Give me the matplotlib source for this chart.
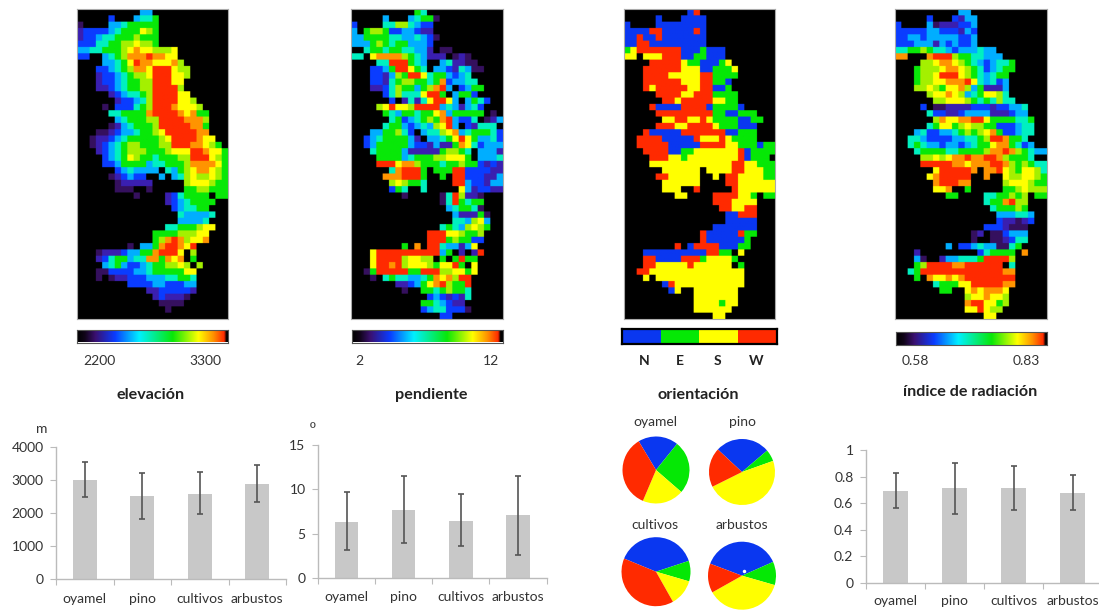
import numpy as np
import matplotlib
matplotlib.use("Agg")
import matplotlib.pyplot as plt
from matplotlib.colors import ListedColormap, LinearSegmentedColormap

plt.rcParams['font.family'] = ['Lato', 'DejaVu Sans']

W, H = 1099, 610

# ---- raster maps: one string per row, '.' is outside the study area
ELEVACION = [
"..........33", ".....2...3445", "0....33455555", "1222234555765", "1223445556555",
"2224455667665", "3344555678776667", "22..345688898877", "....3345798877786",
"...223456887999766", "...122345667999776", "...12234556699977", "...11234556699996",
".....1234456999977", "......1223469999776", "....0.22245699987776", ".....4455558999987855",
"......345556699998886", ".....0134555699999885", "...001233455679999988", "..01123455555679999877",
"..012345665556699988765", "...123456665556777998775", "....23457655455566999765",
"....22355553445556888875", "......2343333.4356788765", ".....012322..3.346766765",
"......011111.....6777655", "......000..0.....5566555", ".........0....1245555.55",
"..............12345555", "...............234455", "................433334", "................33334",
"..............44555677", "............555566677", "............568986778", "........0.335899879",
"...01112335589997.6", "...12455344885878.5", "....34532234556676.6", "...0022223345555577",
"...0.01122233344554", "........22223322233", "...........11222221", "............121110",
".............0000", "..............0", "",
]
PENDIENTE = [
"..........54", ".....3...34550", "2....44664322", "3.56652233211", "33555544334320",
"3335654553332", "..45545544331.00", "44.788886543111.010", "....44999543..341100",
"...223599754.33214300", "...2213659974553234", "...22145665545823344", "...1124655356893.2355",
".....2464447995.3552", "......2.141479973.3542", "....67977699993431342", ".....5435545578355555.0",
"......45234565893224.013", ".....455323436793.21444.2", "...3355642.3446783455542", "..234555531.334579753342",
"..23555553221311587423333", "...4555531111156654.3331", "....555534555667775.3334", "....99978865554556552121",
"......489995.55599222211", ".....8889995..5.99222113", "......676554....99322133", "......254..4.....7312211",
"........0.....0496110", "..............0495455", "...............345540", "................311150",
"................443673", "..............45436765", "............999776556", "............999565522",
"........5.8.99433137", "...7999999999935.1.19", "...7999967766.5.5955", "...799896777657795.7",
"..059999955999667757", "...0.45443345878699", ".......112357896559", "........0..55456554",
"............2321214", "...........5543211", "...........23442220", "..............22",
]
ORIENTACION = [
"..........NW", ".....N...NNNN", "N....NNNNNNNN", "NNNNWWNNNNNWN", "NNWNNWNNNNNNN",
"NNWWNNNNNNNNN", "ESWWWWWWWNNNENNN", "SS.SSSWWWNNEENNN", "....WWWWWSEENNNES",
"...WWWWWWSSSNNEEES", "...WWWWSSSSSWWEEEE", "...WWWWWWSSSWWEEN", "...WSWWWWWSSWWNNE",
".....WWWWSSWWWEEEE", "......WWSWWWWWSSEE", "....WNNNNWWWWNEEEEN", ".....WWWWWWWWWEENNEEE",
"......SSWWSSWSEEEENNEE", ".....WWWSSWWWWSEEENNN", "...WNNNNNWWWWWWWNNEEE", "..WWWWNNNNNWSSSWSEEEE",
"..WWWWWNNNNNWWWWSSEEENEE", "...WWWWNNEESSSSSSSWNEEEE", "....WWWSSESSSSSSSSWNEEE.", "....SSSSSSSSSSSSSWWSSEEE",
"......SSSSSS.SSSSWWSSSEE", ".....WWSSSSS..S.WWSSSSEE", "......SSSSSS....WWSSSSSS", "......SSS..W.....WSSSSSS",
"........SS....WWWWSSE.EE", "..............WWWSSSS", "...............WWSSWW", "................NNWWW",
"................NNNNN", "..............NNNNNNN", "............WNNNNNWEE", "............WNNNNNNE",
"........W.NWWWWNNNEE", "...NNNNNNNNNNWWEE.S", "...WWNNNNWWWESSSSE", "...WWSSSSSWSSSSSS.E",
"..WWSSSSSSSSSSSSSSS", "...S.SSSSSSSSSSSSSS", "......NWSSSSSSSSSSS", ".......NS..SSSSSSS",
"...........SSSSSSS", "...........SSSSESS", "...........SSSSSS", "..............SS",
]
RADIACION = [
"..........33", ".....2...2133", "2....30111223", "2222233222132", "2233233333223",
"2223331323223", "4455654432333433", "88...899965544333", "....667887654323445",
"...5666788765423455", "...566799976543455", "...566778889743423", "...667657786351113",
".....6778763457764", "......6677765454644", "....2.001111222122334", ".....4221123333111233",
"......6877889975555445", ".....45775676655222344", "...3422334565678522344", "..4432222334456998554",
"..45433233234557885423", "...455554455556889865433", "....667678898899865554.", "....99999887888998656544",
"......7999998.8897657764", ".....7899999..8..7667765", "......899988.....6777655", "......778..5.....5567666",
"........55....4455656.55", "..............4558966", "...............455565", "................333443",
"................211012", "..............2221000", "............01.002333", "............0..001244",
"........3.2234330045", "...1.........245555.8", "...30..133444599996", "...56999988999999.4",
"..45999999999999988", "...5.87787899999999", "......4555779999988", ".......55..7878887",
"...........6778776", "...........8997756", "...........779766", "..............77",
]
LEVEL_COLORS = ["#35105e", "#3a1fb0", "#0a3cff", "#00aeff", "#00f0c0",
                "#08e808", "#a4f000", "#ffff00", "#ff9400", "#ff2a00"]
ASPECT_COLORS = {"N": "#0a37f0", "E": "#05e805", "S": "#ffff00", "W": "#ff2a00"}
ASPECT_ORDER = ["N", "E", "S", "W"]

# ---- bar panels
CATEGORIES = ["oyamel", "pino", "cultivos", "arbustos"]
ELEV_MEAN = [3000, 2520, 2600, 2880]
ELEV_LOW = [2480, 1830, 1990, 2330]
ELEV_HIGH = [3550, 3220, 3250, 3450]
PEND_MEAN = [6.35, 7.7, 6.45, 7.1]
PEND_LOW = [3.2, 4.0, 3.6, 2.65]
PEND_HIGH = [9.7, 11.5, 9.45, 11.5]
RAD_MEAN = [0.69, 0.71, 0.71, 0.675]
RAD_LOW = [0.565, 0.515, 0.548, 0.545]
RAD_HIGH = [0.825, 0.905, 0.88, 0.81]
ELEV_TICKS = [0, 1000, 2000, 3000, 4000]
PEND_TICKS = [0, 5, 10, 15]
RAD_TICKS = [0, 0.2, 0.4, 0.6, 0.8, 1]
RAD_TICK_LABELS = ["0", "0.2", "0.4", "0.6", "0.8", "1"]

# ---- pies: shares of N, E, S, W in percent, first wedge start clockwise from north
PIE_OYAMEL = [19.4, 25.6, 20.0, 35.0]
PIE_PINO = [26.8, 5.8, 48.1, 19.3]
PIE_CULTIVOS = [38.7, 9.6, 12.3, 39.4]
PIE_ARBUSTOS = [37.6, 11.1, 37.4, 13.9]
PIE_STARTS = [329, 313, 292.4, 290.7]

fig = plt.figure(figsize=(W / 100, H / 100), dpi=100, facecolor="white")


def axes_px(x0, y0, x1, y1, **kw):
    return fig.add_axes([x0 / W, 1 - y1 / H, (x1 - x0) / W, (y1 - y0) / H], **kw)


def label(x, y, s, size=10, weight="normal", color="#333333", family=None):
    fig.text(x / W, 1 - y / H, s, ha="center", va="center", fontsize=size,
             fontweight=weight, color=color, family=family)


level_cmap = ListedColormap(LEVEL_COLORS + list(ASPECT_COLORS.values()))


def raster(rows):
    keys = "0123456789" + "".join(ASPECT_ORDER)
    out = np.full((49, 24), np.nan)
    for r, row in enumerate(rows):
        for c, ch in enumerate(row.ljust(24, ".")[:24]):
            if ch != ".":
                out[r, c] = keys.index(ch)
    return out


def draw_map(box, rows):
    ax = axes_px(*box)
    ax.set_facecolor("black")
    # each cell is repeated so that the resampling softens only its edges
    grid = np.repeat(np.repeat(raster(rows), 4, axis=0), 4, axis=1)
    rgba = level_cmap((grid + 0.5) / 14)
    rgba[np.isnan(grid)] = (0, 0, 0, 1)
    ax.imshow(rgba, aspect="auto", interpolation="hanning", interpolation_stage="rgba")
    ax.set_xticks([])
    ax.set_yticks([])
    for s in ax.spines.values():
        s.set_color("#aaaaaa")
        s.set_linewidth(0.8)


draw_map((77, 9.3, 227.7, 319), ELEVACION)
draw_map((351, 9.3, 502.7, 319), PENDIENTE)
draw_map((623.7, 9.3, 775.3, 319), ORIENTACION)
draw_map((895.3, 9.3, 1046.7, 319), RADIACION)

rainbow = LinearSegmentedColormap.from_list("rainbowbar", [
    (0.00, "#000000"), (0.05, "#100418"), (0.12, "#3a1070"), (0.25, "#0a3cff"),
    (0.41, "#00f0ff"), (0.63, "#08e808"), (0.80, "#ffff00"), (0.90, "#ff9000"),
    (0.97, "#ff2a00"), (0.985, "#000000"), (1.00, "#000000")])


def colorbar(box):
    ax = axes_px(*box)
    ax.imshow(np.linspace(0, 1, 256)[None, :], cmap=rainbow, aspect="auto")
    ax.set_xticks([])
    ax.set_yticks([])
    for s in ax.spines.values():
        s.set_color("#555555")
        s.set_linewidth(0.8)


colorbar((76.5, 329.5, 228, 342.5))
colorbar((351.5, 329.5, 502.5, 342.5))
colorbar((895.5, 332.5, 1047, 345.5))

ax = axes_px(622, 328.5, 776.5, 344)
ax.imshow(np.arange(4)[None, :], aspect="auto",
          cmap=ListedColormap([ASPECT_COLORS[k] for k in ASPECT_ORDER]))
ax.set_xticks([])
ax.set_yticks([])
for s in ax.spines.values():
    s.set_color("black")
    s.set_linewidth(1.6)

label(99.6, 360.7, "2200", 10)
label(205, 360.7, "3300", 10)
label(359.6, 360.7, "2", 10)
label(490.5, 360.7, "12", 10)
label(915.3, 360.7, "0.58", 10)
label(1026.3, 360.7, "0.83", 10)
for x, k in zip([644.5, 680, 717.7, 756], ASPECT_ORDER):
    label(x, 360.7, k, 10, "bold", "#222222")

label(151, 395, "elevación", 11.6, "bold", "#222222")
label(431, 395, "pendiente", 11.6, "bold", "#222222")
label(698.5, 395, "orientación", 11.6, "bold", "#222222")
label(970.6, 392, "índice de radiación", 11.6, "bold", "#222222")
label(41.4, 429, "m", 10)
label(313, 429, "º", 11, family="Liberation Sans")


def bars(box, means, low, high, yticks, ylabels, ymax, xmax=3.5, label_pad=11.5):
    ax = axes_px(*box)
    x = np.arange(len(means))
    m = np.asarray(means, float)
    ax.bar(x, m, width=0.41, color="#c8c8c8")
    ax.errorbar(x, m, yerr=[m - np.asarray(low), np.asarray(high) - m], fmt="none",
                ecolor="#555555", elinewidth=1.2, capsize=2.5, capthick=1.2)
    ax.set_xlim(-0.5, xmax)
    ax.set_ylim(0, ymax)
    ax.set_yticks(yticks, ylabels)
    ax.set_xticks(np.arange(-0.5, 4, 1), [""] * 5)
    ax.set_xticks(x, CATEGORIES, minor=True)
    ax.tick_params(axis="x", which="minor", length=0, pad=label_pad, labelsize=10, labelcolor="#333333")
    ax.tick_params(axis="x", which="major", length=4, color="#bbbbbb")
    ax.tick_params(axis="y", length=4, color="#bbbbbb", labelsize=10, labelcolor="#333333", pad=5)
    for s in ("top", "right"):
        ax.spines[s].set_visible(False)
    for s in ("left", "bottom"):
        ax.spines[s].set_color("#bbbbbb")
        ax.spines[s].set_linewidth(1)
    return ax


bars((56, 447.3, 286, 579.3), ELEV_MEAN, ELEV_LOW, ELEV_HIGH, ELEV_TICKS,
     [str(v) for v in ELEV_TICKS], 4000, label_pad=10)
bars((318, 445, 546.5, 578.3), PEND_MEAN, PEND_LOW, PEND_HIGH, PEND_TICKS,
     [str(v) for v in PEND_TICKS], 15, label_pad=9.5)
bars((866, 450, 1102, 582.7), RAD_MEAN, RAD_LOW, RAD_HIGH, RAD_TICKS, RAD_TICK_LABELS, 1,
     label_pad=8.5)


def pie(cx, cy, r, values, start):
    ax = axes_px(cx - r, cy - r, cx + r, cy + r)
    ax.pie(values, colors=[ASPECT_COLORS[k] for k in ASPECT_ORDER], startangle=90 - start,
           counterclock=False, radius=1, wedgeprops={"linewidth": 0})
    ax.set_xlim(-1, 1)
    ax.set_ylim(-1, 1)
    return ax


pie(656, 470, 33.5, PIE_OYAMEL, PIE_STARTS[0])
pie(742, 472, 33, PIE_PINO, PIE_STARTS[1])
pie(656, 571.7, 34.5, PIE_CULTIVOS, PIE_STARTS[2])
pie_ax = pie(742, 575.7, 34, PIE_ARBUSTOS, PIE_STARTS[3])
pie_ax.plot([0.05], [0.14], "o", color="white", ms=2.5, mew=0)

label(655, 421.7, "oyamel", 10)
label(742, 421.7, "pino", 10)
label(655, 525, "cultivos", 10)
label(742, 525, "arbustos", 10)

fig.savefig("out.png", dpi=100)
